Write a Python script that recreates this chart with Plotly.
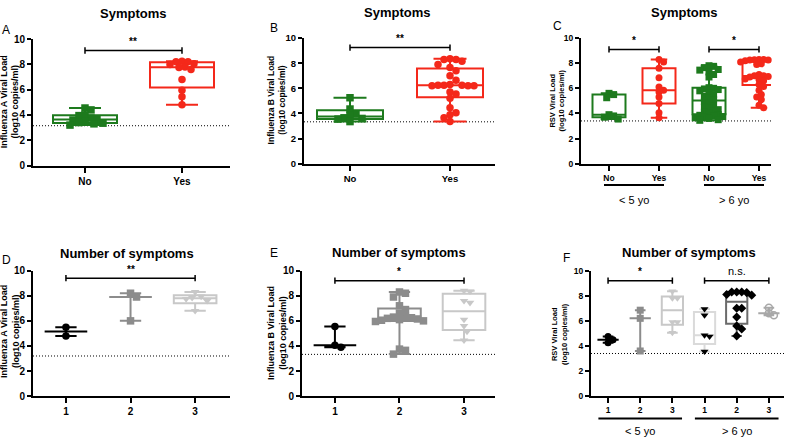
import numpy as np
import plotly.graph_objects as go

W, H = 786, 444
FONT = "Liberation Sans"

# ---- data: viral load (log10 copies/ml) ----
sym_labels = ["No", "Yes"]
num_labels = ["1", "2", "3"]
age_labels = ["< 5 yo", "> 6 yo"]

flu_a_no = [4.55, 4.4, 4.0, 3.95, 3.75, 3.7, 3.6, 3.5, 3.4, 3.35, 3.3, 3.2]
flu_a_yes = [8.25, 8.2, 8.2, 8.05, 8.0, 7.8, 7.75, 7.6, 6.8, 5.95, 5.45, 4.8]

flu_b_no = [5.25, 4.35, 3.95, 3.85, 3.65, 3.6, 3.55, 3.35]
flu_b_yes = [8.35, 8.3, 8.3, 8.15, 7.9, 7.65, 7.4, 7.0, 6.65, 6.3, 6.25, 6.25,
             6.25, 6.2, 6.2, 6.2, 5.7, 5.55, 5.2, 4.45, 4.05, 3.9, 3.65, 3.35]

rsv_lt5_no = [5.6, 5.5, 5.25, 3.9, 3.8, 3.7, 3.55]
rsv_lt5_yes = [8.3, 8.1, 7.6, 6.85, 6.1, 5.85, 5.7, 5.3, 4.8, 4.05, 3.65]
rsv_gt6_no = [7.8, 7.75, 7.65, 7.5, 7.45, 7.3, 7.1, 6.9, 6.05, 6.0, 5.95, 5.9,
              5.8, 5.6, 5.5, 5.35, 5.2, 5.1, 4.95, 4.8, 4.6, 4.5, 4.4, 4.3,
              4.2, 4.1, 4.0, 3.9, 3.85, 3.8, 3.75, 3.7, 3.65, 3.6, 3.5, 3.45]
rsv_gt6_yes = [8.3, 8.3, 8.28, 8.25, 8.25, 8.2, 8.2, 8.15, 8.1, 8.0, 7.95, 7.9,
               7.1, 7.0, 7.0, 6.95, 6.9, 6.8, 6.75, 6.7, 6.65, 6.6, 6.3, 6.15,
               5.85, 5.5, 5.3, 5.1, 4.65, 4.45]

flu_a_n1 = [5.5, 4.8]
flu_a_n2 = [8.2, 7.9, 6.0]
flu_a_n3 = [8.3, 7.95, 7.85, 7.75, 7.6, 6.8]

flu_b_n1 = [5.55, 4.05, 3.9]
flu_b_n2 = [8.3, 8.2, 7.9, 7.2, 6.9, 6.6, 6.35, 6.3, 6.25, 6.2, 6.15, 6.1,
            6.05, 6.0, 5.95, 3.75, 3.65, 3.35]
flu_b_n3 = [8.4, 8.35, 7.6, 7.45, 6.1, 5.6, 5.15, 4.45]

rsv_lt5_n1 = [4.75, 4.5, 4.25]
rsv_lt5_n2 = [6.85, 6.2, 3.6]
rsv_lt5_n3 = [8.35, 7.8, 7.8, 5.9, 5.9, 5.05]
rsv_gt6_n1 = [6.95, 6.45, 4.85, 4.75, 3.55]
rsv_gt6_n2 = [8.3, 8.3, 8.3, 8.25, 8.1, 8.05, 7.0, 7.0, 6.3, 5.6, 5.35, 4.8]
rsv_gt6_n3 = [7.05, 6.6, 6.45]

# colours
GREEN = "#1d7a1d"
RED = "#f4281a"
BLACK = "#000000"
GREY = "#8c8c8c"
LIGHT = "#c8c8c8"

# group style: (values, box colour, marker colour, marker symbol)
panels = [
    dict(n="", x=(33, 230), y=(34, 164), xr=(-0.536, 1.495), ticks=sym_labels,
         groups=[(flu_a_no, GREEN, GREEN, "square"), (flu_a_yes, RED, RED, "circle")],
         ytitle="Influenza A Viral Load<br>(log10 copies/ml)", ytpos=(10, 99),
         title="Symptoms", tpos=(133, 8), letter="A", lpos=(6, 25),
         lod=3.15, brackets=[(0, 1, 9.1, "**")], ages=None, fs=10, ms=7.5, d=6.0),
    dict(n="2", x=(304, 495), y=(33, 162), xr=(-0.46, 1.45), ticks=sym_labels,
         groups=[(flu_b_no, GREEN, GREEN, "square"), (flu_b_yes, RED, RED, "circle")],
         ytitle="Influenza B Viral Load<br>(log10 copies/ml)", ytpos=(276, 97),
         title="Symptoms", tpos=(397, 7), letter="B", lpos=(274, 23),
         lod=3.33, brackets=[(0, 1, 9.25, "**")], ages=None, fs=9.5, ms=7.5, d=6.0),
    dict(n="3", x=(581, 771), y=(33, 162), xr=(-0.56, 3.24), ticks=sym_labels * 2,
         groups=[(rsv_lt5_no, GREEN, GREEN, "square"), (rsv_lt5_yes, RED, RED, "circle"),
                 (rsv_gt6_no, GREEN, GREEN, "square"), (rsv_gt6_yes, RED, RED, "circle")],
         ytitle="RSV Viral Load<br>(log10 copies/ml)", ytpos=(557, 97),
         title="Symptoms", tpos=(684, 7), letter="C", lpos=(557, 21),
         lod=3.4, brackets=[(0, 1, 9.1, "*"), (2, 3, 9.1, "*")],
         ages=dict(centers=[0.5, 2.5], half=0.6, line_y=184, text_y=199),
         fs=8.5, ms=7, d=4.6),
    dict(n="4", x=(33, 230), y=(272, 401), xr=(-0.51, 2.54), ticks=num_labels,
         groups=[(flu_a_n1, BLACK, BLACK, "circle"), (flu_a_n2, GREY, GREY, "square"),
                 (flu_a_n3, LIGHT, LIGHT, "triangle-down")],
         ytitle="Influenza A Viral Load<br>(log10 copies/ml)", ytpos=(10, 335),
         title="Number of symptoms", tpos=(127, 254), letter="D", lpos=(6, 261),
         lod=3.2, brackets=[(0, 2, 9.4, "**")], ages=None, fs=10, ms=7.5, d=6.0),
    dict(n="5", x=(302, 495), y=(272, 401), xr=(-0.51, 2.48), ticks=num_labels,
         groups=[(flu_b_n1, BLACK, BLACK, "circle"), (flu_b_n2, GREY, GREY, "square"),
                 (flu_b_n3, LIGHT, LIGHT, "triangle-down")],
         ytitle="Influenza B Viral Load<br>(log10 copies/ml)", ytpos=(277, 336),
         title="Number of symptoms", tpos=(399, 253), letter="E", lpos=(274, 254),
         lod=3.33, brackets=[(0, 2, 9.2, "*")], ages=None, fs=10, ms=7.5, d=6.0),
    dict(n="6", x=(591, 784), y=(272, 401), xr=(-0.53, 5.47), ticks=num_labels * 2,
         groups=[(rsv_lt5_n1, BLACK, BLACK, "circle"), (rsv_lt5_n2, GREY, GREY, "square"),
                 (rsv_lt5_n3, LIGHT, LIGHT, "triangle-down"),
                 (rsv_gt6_n1, "#dadada", BLACK, "triangle-down"),
                 (rsv_gt6_n2, "#6b6b6b", BLACK, "diamond"),
                 (rsv_gt6_n3, "#a8a8a8", "#a8a8a8", "circle-open")],
         ytitle="RSV Viral Load<br>(log10 copies/ml)", ytpos=(560, 337),
         title="Number of symptoms", tpos=(689, 253), letter="F", lpos=(566, 259),
         lod=3.4, brackets=[(0, 2, 9.2, "*"), (3, 5, 9.2, "n.s.")],
         ages=dict(centers=[1, 4], half=1.3, line_y=424, text_y=437),
         fs=8.5, ms=7, d=5.0),
]


def box_stats(v):
    v = np.asarray(v, float)
    if len(v) <= 3:
        # small groups are drawn as median with range
        med = float(np.median(v))
        return med, med, med, v.min(), v.max()
    q1, med, q3 = np.percentile(v, [25, 50, 75], method="weibull")
    return q1, med, q3, v.min(), v.max()


def swarm(vals, ppx, ppy, d):
    # spread overlapping points sideways, like a GraphPad scatter
    vals = np.asarray(vals, float)
    placed, offs = [], np.zeros(len(vals))
    for i in np.argsort(-vals, kind="stable"):
        yp = vals[i] * ppy
        pos = 0.0
        for k in range(60):
            cands = [0.0] if k == 0 else [k * d / 2, -k * d / 2]
            good = [c for c in cands
                    if all((c - px) ** 2 + (yp - py) ** 2 >= d * d for px, py in placed)]
            if good:
                pos = good[0]
                break
        placed.append((pos, yp))
        offs[i] = pos / ppx
    return offs


fig = go.Figure()
layout = {}
shapes, annots = [], []

for p in panels:
    n = p["n"]
    xa, ya = "x" + n, "y" + n
    dom_x = [p["x"][0] / W, p["x"][1] / W]
    dom_y = [1 - p["y"][1] / H, 1 - p["y"][0] / H]
    r0, r1 = p["xr"]
    ppx = (p["x"][1] - p["x"][0]) / (r1 - r0)
    ppy = (p["y"][1] - p["y"][0]) / 10.0
    tick_font = dict(family=FONT, size=p["fs"], color="black", weight="bold")

    layout["xaxis" + n] = dict(
        domain=dom_x, range=[r0, r1], anchor=ya, tickmode="array",
        tickvals=list(range(len(p["ticks"]))), ticktext=p["ticks"],
        showline=True, linecolor="black", linewidth=2, ticks="outside",
        ticklen=5, tickwidth=1.5, tickcolor="black", showgrid=False,
        zeroline=False, tickfont=tick_font, fixedrange=True)
    layout["yaxis" + n] = dict(
        domain=dom_y, range=[0, 10], anchor=xa, tickvals=[0, 2, 4, 6, 8, 10],
        showline=True, linecolor="black", linewidth=2, ticks="outside",
        ticklen=4, tickwidth=1.5, tickcolor="black", showgrid=False,
        zeroline=False, tickfont=tick_font, fixedrange=True)

    for i, (vals, bcol, mcol, sym) in enumerate(p["groups"]):
        q1, med, q3, lo, hi = box_stats(vals)
        fig.add_trace(go.Box(
            x=[i], q1=[q1], median=[med], q3=[q3], lowerfence=[lo], upperfence=[hi],
            orientation="v", width=0.66, whiskerwidth=0.5, boxpoints=False,
            fillcolor="rgba(0,0,0,0)", line=dict(color=bcol, width=2),
            xaxis=xa, yaxis=ya, showlegend=False, hoverinfo="skip"))
        offs = swarm(vals, ppx, ppy, p["d"])
        marker = dict(symbol=sym, size=p["ms"], color=mcol, line=dict(width=0))
        if sym.endswith("open"):
            marker["line"] = dict(width=1.5, color=mcol)
        fig.add_trace(go.Scatter(
            x=i + offs, y=vals, mode="markers", marker=marker,
            xaxis=xa, yaxis=ya, showlegend=False, cliponaxis=False))

    # detection limit
    shapes.append(dict(type="line", xref=xa + " domain", yref=ya, x0=0, x1=1,
                       y0=p["lod"], y1=p["lod"], layer="below",
                       line=dict(color="black", width=1, dash="1px,2px")))

    # significance brackets
    for b0, b1, by, txt in p["brackets"]:
        ln = dict(color="black", width=1.5)
        shapes.append(dict(type="line", xref=xa, yref=ya, x0=b0, x1=b1, y0=by, y1=by, line=ln))
        for bx in (b0, b1):
            shapes.append(dict(type="line", xref=xa, yref=ya, x0=bx, x1=bx,
                               y0=by - 0.25, y1=by + 0.25, line=ln))
        annots.append(dict(
            x=(b0 + b1) / 2, y=by + 0.1, xref=xa, yref=ya, text=txt, showarrow=False,
            yanchor="bottom",
            font=dict(family=FONT, size=11 if txt == "n.s." else 10, color="black",
                      weight="normal" if txt == "n.s." else "bold")))

    # age group underlines
    if p["ages"]:
        a = p["ages"]
        for c, lab in zip(a["centers"], age_labels):
            shapes.append(dict(
                type="line", xref=xa + " domain", yref="paper",
                x0=(c - a["half"] - r0) / (r1 - r0), x1=(c + a["half"] - r0) / (r1 - r0),
                y0=1 - a["line_y"] / H, y1=1 - a["line_y"] / H,
                line=dict(color="black", width=2)))
            annots.append(dict(
                x=(c - r0) / (r1 - r0), y=1 - a["text_y"] / H, xref=xa + " domain",
                yref="paper", text=lab, showarrow=False, xanchor="center",
                yanchor="middle", font=dict(family=FONT, size=11, color="black")))

    # panel title, letter and y title
    annots.append(dict(x=p["tpos"][0] / W, y=1 - p["tpos"][1] / H, xref="paper",
                       yref="paper", text=p["title"], showarrow=False,
                       xanchor="center", yanchor="middle",
                       font=dict(family=FONT, size=13, color="black", weight="bold")))
    annots.append(dict(x=p["lpos"][0] / W, y=1 - p["lpos"][1] / H, xref="paper",
                       yref="paper", text=p["letter"], showarrow=False,
                       xanchor="center", yanchor="middle",
                       font=dict(family=FONT, size=12, color="black")))
    annots.append(dict(x=p["ytpos"][0] / W, y=1 - p["ytpos"][1] / H, xref="paper",
                       yref="paper", text=p["ytitle"], showarrow=False, textangle=-90,
                       xanchor="center", yanchor="middle",
                       font=dict(family=FONT, size=p["fs"] - 1, color="black",
                                 weight="bold")))

fig.update_layout(
    width=W, height=H, margin=dict(l=0, r=0, t=0, b=0),
    paper_bgcolor="white", plot_bgcolor="white",
    shapes=shapes, annotations=annots, **layout)

# the page's default body margin would shift the figure
fig.write_html("out.html", config={"displayModeBar": False},
               post_script="document.body.style.margin = '0px';")
